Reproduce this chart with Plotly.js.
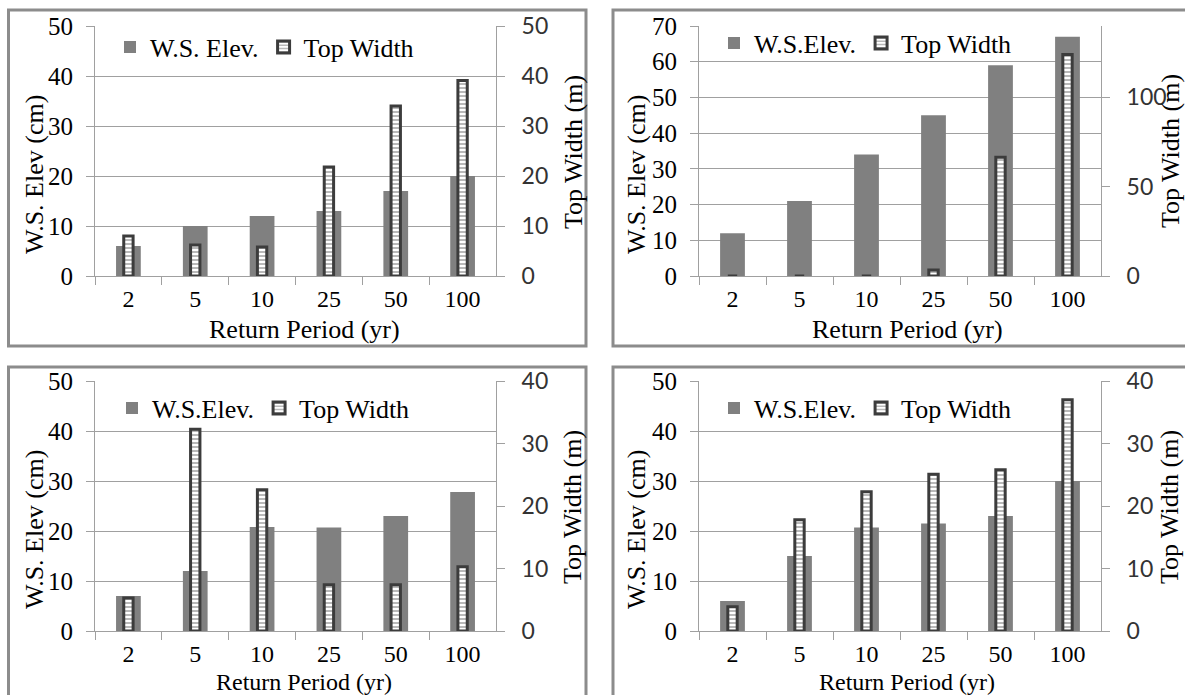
<!DOCTYPE html>
<html>
<head>
<meta charset="utf-8">
<script src="https://cdn.plot.ly/plotly-3.0.1.min.js"></script>
<style>html,body{margin:0;padding:0;background:#fff;}#chart{width:1185px;height:695px;}</style>
</head>
<body>
<div id="chart"></div>
<script>
// ---- data ----
const categories = ['2', '5', '10', '25', '50', '100'];
const wsElevA = [6, 10, 12, 13, 17, 20];
const topWidthA = [8, 6.2, 5.8, 21.8, 34, 39.1];
const wsElevB = [12, 21, 34, 45, 59, 67];
const topWidthB = [0, 0, 0, 3.3, 66.5, 124];
const wsElevC = [7, 12, 20.8, 20.7, 23, 27.8];
const topWidthC = [5.3, 32.3, 22.6, 7.4, 7.4, 10.3];
const wsElevD = [6, 15, 20.7, 21.5, 23, 30];
const topWidthD = [3.9, 17.8, 22.3, 25.1, 25.8, 37];
const elevNames = ['W.S. Elev.', 'W.S.Elev.', 'W.S.Elev.', 'W.S.Elev.'];
const topWidthName = 'Top Width';
const leftRanges = [[0, 50], [0, 70], [0, 50], [0, 50]];
const rightRanges = [[0, 50], [0, 140], [0, 40], [0, 40]];
const rightDticks = [10, 50, 10, 10];
const xTitleText = 'Return Period (yr)';
const yTitleText = 'W.S. Elev (cm)';
const y2TitleText = 'Top Width (m)';

const elevSeries = [wsElevA, wsElevB, wsElevC, wsElevD];
const widthSeries = [topWidthA, topWidthB, topWidthC, topWidthD];

// ---- layout helpers (pixel -> paper) ----
const W = 1185, H = 695;
const PX = p => p / W;
const PY = p => 1 - p / H;

// panel geometry in px
const panels = [
  {l: 95, r: 496, t: 26, b: 276, frame: [8.5, 586, 10, 346], leg: [110, 47],
   ttl: {y: [34, 175], y2: [573, 152], x: [304, 329]}, xs: 26},
  {l: 699, r: 1101, t: 26, b: 276, frame: [613, 1195, 10, 346], leg: [714, 43],
   ttl: {y: [636, 175], y2: [1170, 151], x: [907, 329]}, xs: 26},
  {l: 95, r: 496, t: 381, b: 631, frame: [8.5, 586, 367, 705], leg: [112, 408],
   ttl: {y: [34, 530], y2: [573, 507], x: [304, 682]}, xs: 24},
  {l: 699, r: 1101, t: 381, b: 631, frame: [613, 1195, 367, 705], leg: [714, 408],
   ttl: {y: [636, 530], y2: [1170, 507], x: [907, 682]}, xs: 24}
];

const serif = '"Liberation Serif", "Times New Roman", Times, serif';
const sans = 'Lato, "Liberation Sans", sans-serif';
const axisGray = '#a0a0a0';

const data = [];
const layout = {
  width: W, height: H,
  margin: {l: 0, r: 0, t: 0, b: 0},
  paper_bgcolor: '#ffffff', plot_bgcolor: 'rgba(0,0,0,0)',
  barmode: 'overlay',
  showlegend: true,
  font: {family: serif, color: '#000'},
  shapes: [], annotations: []
};

panels.forEach((p, i) => {
  const xa = i === 0 ? 'x' : 'x' + (i + 1);
  const yl = 'y' + (i === 0 ? '' : (2 * i + 1));
  const yr = 'y' + (2 * i + 2);
  const xKey = i === 0 ? 'xaxis' : 'xaxis' + (i + 1);
  const ylKey = i === 0 ? 'yaxis' : 'yaxis' + (2 * i + 1);
  const yrKey = 'yaxis' + (2 * i + 2);
  const legKey = i === 0 ? 'legend' : 'legend' + (i + 1);

  data.push({
    type: 'bar', name: elevNames[i], x: categories, y: elevSeries[i],
    xaxis: xa, yaxis: yl, legend: legKey, width: 0.37,
    marker: {color: '#808080', line: {width: 0}}
  });
  data.push({
    type: 'bar', name: topWidthName, x: categories, y: widthSeries[i],
    xaxis: xa, yaxis: yr, legend: legKey, width: 0.14,
    marker: {color: '#ffffff', line: {color: '#3c3c3c', width: 3},
      pattern: {shape: '-', fgcolor: '#8a8a8a', bgcolor: '#ffffff', size: 4, solidity: 0.3}}
  });

  layout[xKey] = {
    domain: [PX(p.l), PX(p.r)], anchor: yl, type: 'category',
    range: [-0.5, 5.5], showline: true, linecolor: axisGray, linewidth: 1,
    ticks: 'outside', tickson: 'boundaries', ticklen: 8, tickcolor: axisGray,
    showgrid: false, tickfont: {family: serif, size: 24, color: '#000'},
    ticklabelstandoff: 1, fixedrange: true
  };
  layout[ylKey] = {
    domain: [PY(p.b), PY(p.t)], anchor: xa, range: leftRanges[i], dtick: 10,
    showline: true, linecolor: axisGray, linewidth: 1, ticks: 'outside', ticklen: 8,
    tickcolor: axisGray, showgrid: true, gridcolor: axisGray, gridwidth: 1,
    zeroline: false, tickfont: {family: serif, size: 25, color: '#000'},
    ticklabelstandoff: 8, fixedrange: true
  };
  layout[yrKey] = {
    overlaying: yl, side: 'right', anchor: xa, range: rightRanges[i], dtick: rightDticks[i],
    showline: true, linecolor: axisGray, linewidth: 1, ticks: 'outside', ticklen: 8,
    tickcolor: axisGray, showgrid: false, zeroline: false,
    tickfont: {family: sans, size: 23, color: '#333'}, ticklabelstandoff: 12, fixedrange: true
  };
  layout[legKey] = {
    orientation: 'h', x: PX(p.leg[0]), y: PY(p.leg[1]), xanchor: 'left', yanchor: 'middle',
    bgcolor: 'rgba(0,0,0,0)', borderwidth: 0,
    font: {family: serif, size: 26, color: '#000'}, itemclick: false, itemdoubleclick: false
  };

  layout.shapes.push({
    type: 'rect', xref: 'paper', yref: 'paper', layer: 'above',
    x0: PX(p.frame[0]), x1: PX(p.frame[1]), y0: PY(p.frame[3]), y1: PY(p.frame[2]),
    line: {color: '#8c8c8c', width: 3}, fillcolor: 'rgba(0,0,0,0)'
  });

  layout.annotations.push({
    xref: 'paper', yref: 'paper', x: PX(p.ttl.y[0]), y: PY(p.ttl.y[1]),
    text: yTitleText, textangle: -90, showarrow: false, xanchor: 'center', yanchor: 'middle',
    font: {family: serif, size: 26, color: '#000'}
  });
  layout.annotations.push({
    xref: 'paper', yref: 'paper', x: PX(p.ttl.y2[0]), y: PY(p.ttl.y2[1]),
    text: y2TitleText, textangle: -90, showarrow: false, xanchor: 'center', yanchor: 'middle',
    font: {family: serif, size: 26, color: '#000'}
  });
  layout.annotations.push({
    xref: 'paper', yref: 'paper', x: PX(p.ttl.x[0]), y: PY(p.ttl.x[1]),
    text: xTitleText, showarrow: false, xanchor: 'center', yanchor: 'middle',
    font: {family: serif, size: p.xs, color: '#000'}
  });
});

Plotly.newPlot('chart', data, layout, {displayModeBar: false, staticPlot: true});
</script>
</body>
</html>
